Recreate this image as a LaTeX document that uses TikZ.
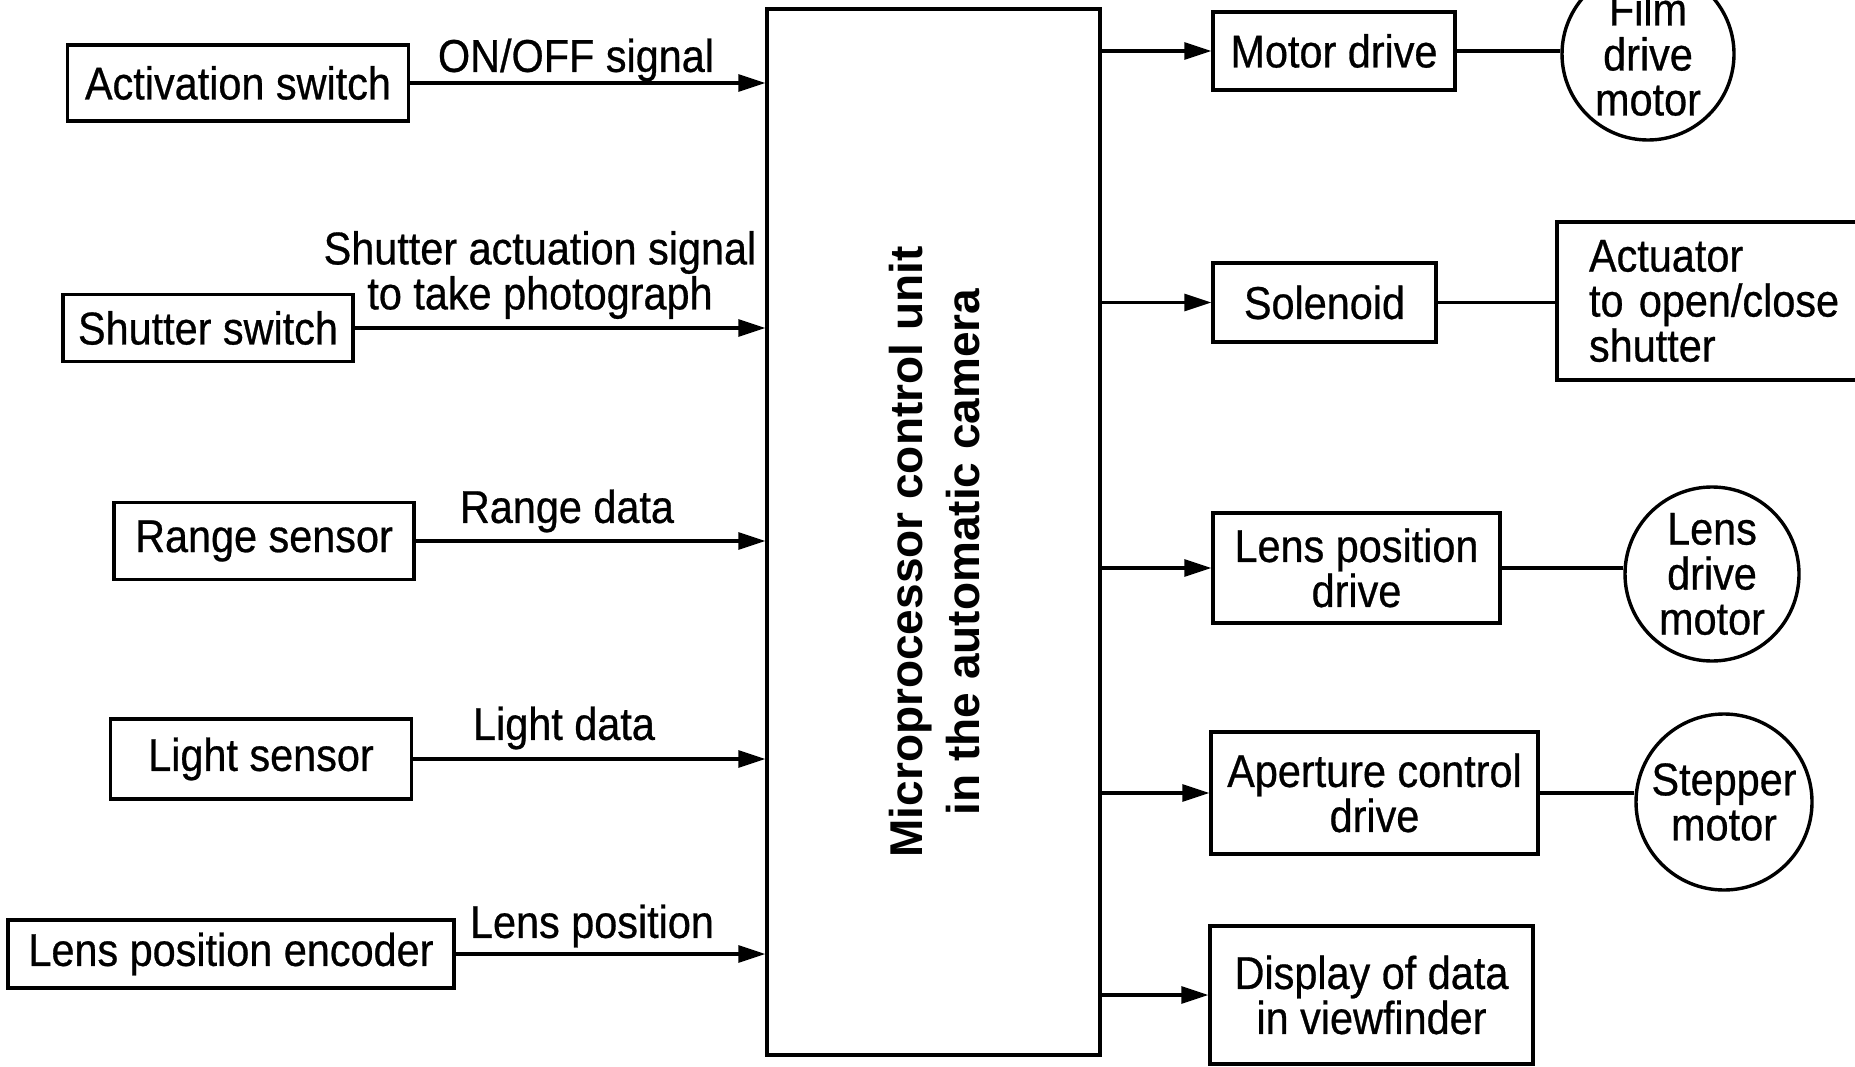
\documentclass[tikz,border=0pt]{standalone}
\usepackage{fontspec}
\setmainfont[FakeStretch=0.9,FakeBold=0.6]{Liberation Sans}
\newfontfamily\boldsans{Liberation Sans}
\usetikzlibrary{arrows.meta}
\begin{document}
\begin{tikzpicture}[x=1pt,y=-1pt,
  txt/.style={font=\fontsize{46}{45}\selectfont, align=center, inner sep=0pt},
  box/.style={draw, line width=3.4pt, font=\fontsize{46}{45}\selectfont, align=center, inner sep=0pt},
  motorc/.style={draw, circle, line width=3.4pt, font=\fontsize{46}{45}\selectfont, align=center, inner sep=0pt},
  arr/.style={line width=3.2pt, -{Triangle[length=27pt,width=17pt]}},
  ln/.style={line width=3.2pt}]
\useasboundingbox (0,0) rectangle (1855,1067);
\clip (0,0) rectangle (1855,1067);
\fill[white] (0,0) rectangle (1855,1067);
% left inputs
\node[box, minimum width=341, minimum height=76] (act) at (238,83) {Activation switch};
\node[box, minimum width=290, minimum height=67] (shut) at (208,328) {Shutter switch};
\node[box, minimum width=300, minimum height=77] (range) at (264,541) {Range sensor};
\node[box, minimum width=301, minimum height=80] (light) at (261,759) {Light sensor};
\node[box, minimum width=446, minimum height=68] (lpe) at (231,954) {Lens position encoder};
% central unit
\node[draw, line width=3.4pt, minimum width=333, minimum height=1046] (mcu) at (933.5,532) {};
\node[rotate=90, align=center, inner sep=0pt, font=\boldsans\bfseries\fontsize{46}{57}\selectfont] (mcutext) at (935,552) {Microprocessor control unit\\in the automatic camera};
% right outputs
\node[box, minimum width=242, minimum height=78] (motor) at (1334,51) {Motor drive};
\node[box, minimum width=223, minimum height=79] (sol) at (1324.5,302.5) {Solenoid};
\node[box, minimum width=287, minimum height=110] (lpd) at (1356.5,568) {Lens position\\drive};
\node[box, minimum width=327, minimum height=122] (apd) at (1374.5,793) {Aperture control\\drive};
\node[box, minimum width=323, minimum height=138] (disp) at (1371.5,995) {Display of data\\in viewfinder};
\node[box, minimum width=318, minimum height=158, text width=254, align=left, inner xsep=32] (actu) at (1716,301) {Actuator\\to open/close\\shutter};
\node[motorc, minimum size=172] (film) at (1648,54) {Film\\drive\\motor};
\node[motorc, minimum size=174] (ldm) at (1712,574) {Lens\\drive\\motor};
\node[motorc, minimum size=176] (step) at (1724,802) {Stepper\\motor};
% labels
\node[txt] (l1) at (576,60) {ON/OFF signal};
\node[txt] (l2) at (540,275) {Shutter actuation signal\\to take photograph};
\node[txt] (l3) at (567,511) {Range data};
\node[txt] (l4) at (564,728) {Light data};
\node[txt] (l5) at (592,926) {Lens position};
% input arrows
\draw[arr] (act.east) -- (act.east -| mcu.west);
\draw[arr] (shut.east) -- (shut.east -| mcu.west);
\draw[arr] (range.east) -- (range.east -| mcu.west);
\draw[arr] (light.east) -- (light.east -| mcu.west);
\draw[arr] (lpe.east) -- (lpe.east -| mcu.west);
% output arrows
\draw[arr] (mcu.east |- motor.west) -- (motor.west);
\draw[arr] (mcu.east |- sol.west) -- (sol.west);
\draw[arr] (mcu.east |- lpd.west) -- (lpd.west);
\draw[arr] (mcu.east |- apd.west) -- (apd.west);
\draw[arr] (mcu.east |- disp.west) -- (disp.west);
% links
\draw[ln] (motor.east) -- (motor.east -| film.west);
\draw[ln] (sol.east) -- (sol.east -| actu.west);
\draw[ln] (lpd.east) -- (lpd.east -| ldm.west);
\draw[ln] (apd.east) -- (apd.east -| step.west);
\end{tikzpicture}
\end{document}
